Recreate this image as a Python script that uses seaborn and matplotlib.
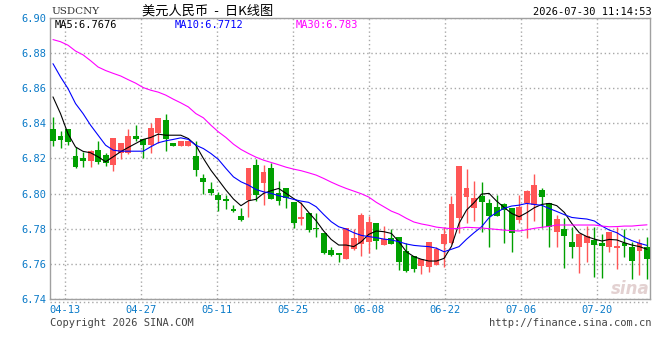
import numpy as np
import pandas as pd
import matplotlib
matplotlib.use("Agg")
import matplotlib.pyplot as plt
from matplotlib.lines import Line2D
import seaborn as sns

# ---------------- data ----------------
dates = pd.bdate_range("2026-04-09", periods=80).strftime("%m-%d").tolist()

opens = [6.8368, 6.8328, 6.8368, 6.8215, 6.8200, 6.8187, 6.8249, 6.8220, 6.8160, 6.8232,
         6.8232, 6.8328, 6.8310, 6.8275, 6.8347, 6.8419, 6.8290, 6.8268, 6.8268, 6.8215,
         6.8088, 6.8026, 6.7992, 6.7967, 6.7914, 6.7875, 6.7964, 6.8164, 6.8058, 6.8147,
         6.8001, 6.8031, 6.7952, 6.7858, 6.7890, 6.7806, 6.7777, 6.7681, 6.7664, 6.7630,
         6.7686, 6.7715, 6.7722, 6.7834, 6.7709, 6.7749, 6.7755, 6.7673, 6.7647, 6.7586,
         6.7580, 6.7592, 6.7711, 6.7719, 6.7862, 6.7982, 6.7916, 6.7987, 6.7948, 6.7925,
         6.7942, 6.7916, 6.7847, 6.7948, 6.7933, 6.8022, 6.7948, 6.7779, 6.7796, 6.7726,
         6.7694, 6.7720, 6.7734, 6.7720, 6.7694, 6.7688, 6.7720, 6.7698, 6.7671, 6.7698]
highs = [6.8433, 6.8357, 6.8370, 6.8266, 6.8238, 6.8245, 6.8300, 6.8230, 6.8317, 6.8290,
         6.8368, 6.8391, 6.8310, 6.8402, 6.8431, 6.8450, 6.8290, 6.8300, 6.8300, 6.8297,
         6.8111, 6.8065, 6.8009, 6.7992, 6.7935, 6.7918, 6.8145, 6.8194, 6.8164, 6.8171,
         6.8073, 6.8031, 6.7952, 6.7952, 6.7890, 6.7890, 6.7777, 6.7698, 6.7664, 6.7803,
         6.7797, 6.7891, 6.7872, 6.7834, 6.7815, 6.7796, 6.7755, 6.7717, 6.7647, 6.7628,
         6.7724, 6.7698, 6.7811, 6.7986, 6.8158, 6.8137, 6.8073, 6.8067, 6.7970, 6.7991,
         6.7948, 6.7916, 6.7993, 6.8020, 6.8112, 6.8030, 6.7948, 6.7878, 6.7862, 6.7811,
         6.7772, 6.7815, 6.7811, 6.7770, 6.7783, 6.7811, 6.7796, 6.7722, 6.7743, 6.7755]
lows = [6.8273, 6.8262, 6.8275, 6.8143, 6.8149, 6.8152, 6.8166, 6.8158, 6.8131, 6.8194,
        6.8226, 6.8300, 6.8205, 6.8232, 6.8285, 6.8243, 6.8268, 6.8268, 6.8268, 6.8100,
        6.7998, 6.7994, 6.7901, 6.7914, 6.7897, 6.7846, 6.7869, 6.7956, 6.7935, 6.7971,
        6.7937, 6.7920, 6.7805, 6.7822, 6.7784, 6.7755, 6.7655, 6.7642, 6.7608, 6.7630,
        6.7681, 6.7647, 6.7660, 6.7683, 6.7709, 6.7715, 6.7565, 6.7556, 6.7552, 6.7541,
        6.7556, 6.7592, 6.7584, 6.7715, 6.7773, 6.7830, 6.7845, 6.7783, 6.7698, 6.7870,
        6.7720, 6.7669, 6.7830, 6.7749, 6.7845, 6.7806, 6.7698, 6.7698, 6.7575, 6.7631,
        6.7546, 6.7612, 6.7527, 6.7518, 6.7666, 6.7571, 6.7641, 6.7514, 6.7535, 6.7512]
closes = [6.8300, 6.8302, 6.8295, 6.8152, 6.8187, 6.8241, 6.8181, 6.8171, 6.8317, 6.8289,
          6.8328, 6.8310, 6.8278, 6.8374, 6.8431, 6.8308, 6.8268, 6.8300, 6.8300, 6.8134,
          6.8067, 6.8005, 6.7965, 6.7958, 6.7901, 6.7852, 6.8145, 6.7992, 6.8124, 6.7971,
          6.7960, 6.7973, 6.7835, 6.7867, 6.7795, 6.7797, 6.7663, 6.7653, 6.7651, 6.7803,
          6.7745, 6.7880, 6.7840, 6.7728, 6.7739, 6.7715, 6.7612, 6.7561, 6.7571, 6.7628,
          6.7724, 6.7684, 6.7770, 6.7938, 6.8158, 6.8033, 6.7976, 6.7953, 6.7874, 6.7874,
          6.7906, 6.7773, 6.7925, 6.8012, 6.8050, 6.7978, 6.7811, 6.7853, 6.7760, 6.7694,
          6.7772, 6.7756, 6.7709, 6.7703, 6.7783, 6.7703, 6.7700, 6.7618, 6.7720, 6.7628]

ma5 = [6.8550, 6.8455, 6.8340, 6.8265, 6.8240, 6.8232, 6.8209, 6.8181, 6.8209, 6.8238,
       6.8262, 6.8285, 6.8308, 6.8319, 6.8338, 6.8332, 6.8332, 6.8332, 6.8313, 6.8275,
       6.8200, 6.8133, 6.8077, 6.8020, 6.7969, 6.7931, 6.7959, 6.7967, 6.8001, 6.8016,
       6.8029, 6.8001, 6.7972, 6.7944, 6.7893, 6.7845, 6.7787, 6.7739, 6.7707, 6.7707,
       6.7698, 6.7726, 6.7768, 6.7787, 6.7783, 6.7773, 6.7726, 6.7669, 6.7641, 6.7626,
       6.7616, 6.7616, 6.7631, 6.7700, 6.7830, 6.7906, 6.7948, 6.7997, 6.8001, 6.7957,
       6.7921, 6.7887, 6.7868, 6.7891, 6.7919, 6.7938, 6.7944, 6.7931, 6.7893, 6.7830,
       6.7777, 6.7755, 6.7741, 6.7730, 6.7739, 6.7736, 6.7720, 6.7707, 6.7698, 6.7683]
ma10 = [6.8739, 6.8664, 6.8597, 6.8512, 6.8455, 6.8389, 6.8332, 6.8275, 6.8247, 6.8241,
        6.8241, 6.8241, 6.8241, 6.8266, 6.8289, 6.8300, 6.8308, 6.8317, 6.8308, 6.8275,
        6.8256, 6.8228, 6.8194, 6.8143, 6.8095, 6.8067, 6.8048, 6.8023, 6.8010, 6.8001,
        6.7988, 6.7978, 6.7967, 6.7957, 6.7950, 6.7925, 6.7881, 6.7840, 6.7811, 6.7798,
        6.7777, 6.7762, 6.7755, 6.7749, 6.7741, 6.7736, 6.7726, 6.7713, 6.7705, 6.7701,
        6.7698, 6.7689, 6.7669, 6.7683, 6.7698, 6.7740, 6.7777, 6.7811, 6.7863, 6.7893,
        6.7916, 6.7929, 6.7934, 6.7944, 6.7938, 6.7933, 6.7915, 6.7898, 6.7880, 6.7864,
        6.7859, 6.7855, 6.7844, 6.7815, 6.7792, 6.7777, 6.7751, 6.7732, 6.7717, 6.7705]
ma30 = [6.8876, 6.8864, 6.8844, 6.8811, 6.8789, 6.8756, 6.8720, 6.8700, 6.8684, 6.8669,
        6.8648, 6.8628, 6.8603, 6.8588, 6.8577, 6.8560, 6.8537, 6.8516, 6.8493, 6.8455,
        6.8431, 6.8389, 6.8351, 6.8319, 6.8281, 6.8251, 6.8228, 6.8207, 6.8190, 6.8177,
        6.8164, 6.8150, 6.8139, 6.8130, 6.8118, 6.8105, 6.8086, 6.8065, 6.8046, 6.8029,
        6.8014, 6.7999, 6.7980, 6.7950, 6.7925, 6.7900, 6.7883, 6.7859, 6.7838, 6.7827,
        6.7819, 6.7809, 6.7804, 6.7800, 6.7802, 6.7808, 6.7806, 6.7804, 6.7800, 6.7796,
        6.7792, 6.7789, 6.7787, 6.7794, 6.7802, 6.7808, 6.7813, 6.7821, 6.7821, 6.7821,
        6.7821, 6.7821, 6.7821, 6.7815, 6.7811, 6.7812, 6.7815, 6.7815, 6.7819, 6.7822]

tick_labels = ["04-13", "04-27", "05-11", "05-25", "06-08", "06-22", "07-06", "07-20"]
y_ticks = [6.74, 6.76, 6.78, 6.80, 6.82, 6.84, 6.86, 6.88, 6.90]
ma_last = {"MA5": "6.7676", "MA10": "6.7712", "MA30": "6.783"}

# ---------------- style ----------------
RED = "#ff5656"
GREEN = "#00a000"
BLUE_TXT = "#0a7ac8"
C_MA = {"MA5": "#000000", "MA10": "#0000ff", "MA30": "#ff00ff"}
GRID = "#a8a8a8"

sns.set_theme(style="white")
plt.rcParams["font.family"] = ["DejaVu Sans Mono", "Noto Sans CJK SC"]

W, H = 660, 360
fig = plt.figure(figsize=(6.6, 3.6), dpi=100)
fig.patch.set_facecolor("white")

L, R, T, B = 50.5, 650.0, 17.8, 299.0
ax = fig.add_axes([L / W, 1 - B / H, (R - L) / W, (B - T) / H])
ax.set_facecolor("white")

df = pd.DataFrame({"idx": np.arange(len(dates)), "date": dates,
                   "open": opens, "high": highs, "low": lows, "close": closes,
                   "MA5": ma5, "MA10": ma10, "MA30": ma30})
up = df["close"] > df["open"]
colors = np.where(up, RED, GREEN)
body_bottom = np.minimum(df["open"], df["close"])
body_h = np.maximum((df["close"] - df["open"]).abs(), 0.0003)

# gridlines
for yv in y_ticks:
    ax.axhline(yv, color=GRID, lw=1, ls=(0, (1, 2)), zorder=0)
date_idx = np.array([dates.index(t) for t in tick_labels])
tick_pos = date_idx - 0.36 + 0.01 * (date_idx - date_idx[0])
for xp in tick_pos:
    ax.axvline(xp, color=GRID, lw=1, ls=(0, (1, 2)), zorder=0)

# candles
ax.vlines(df["idx"], df["low"], df["high"], colors=colors, lw=1.0, zorder=2)
ax.bar(df["idx"], body_h, bottom=body_bottom, width=0.78, color=colors,
       linewidth=0, zorder=3)

# moving averages with seaborn
ma_long = df.melt(id_vars="idx", value_vars=["MA5", "MA10", "MA30"],
                  var_name="ma", value_name="value")
sns.lineplot(data=ma_long, x="idx", y="value", hue="ma", palette=C_MA,
             ax=ax, legend=False, linewidth=0.8, zorder=4)

ax.set_xlim(-0.33, 79.4)
ax.set_ylim(6.74, 6.90)
ax.set_yticks(y_ticks)
ax.set_yticklabels([f"{v:.2f}" for v in y_ticks])
ax.set_xticks(tick_pos)
ax.set_xticklabels(tick_labels)
ax.tick_params(axis="both", length=0, labelsize=7.5, labelcolor=BLUE_TXT)
ax.tick_params(axis="y", pad=3)
ax.tick_params(axis="x", pad=4)
ax.set_xlabel("")
ax.set_ylabel("")
for s in ax.spines.values():
    s.set_visible(True)
    s.set_color("#a0a0a0")
    s.set_linewidth(1.0)

# dotted line under the frame
fig.add_artist(Line2D([L / W, R / W], [1 - 301.5 / H, 1 - 301.5 / H],
                      color=GRID, lw=1, ls=(0, (1, 2))))

def ftext(x, y, s, **kw):
    fig.text(x / W, 1 - y / H, s, va="center", **kw)

ftext(51, 12, "USDCNY", fontsize=7.5, family="DejaVu Serif", color="#333333", ha="left")
ftext(208, 11, "美元人民币  -  日K线图", fontsize=9.5, family=["Noto Sans CJK SC", "DejaVu Sans"],
      color="#000000", ha="center")
ftext(652, 12, "2026-07-30 11:14:53", fontsize=7.5, color="#000000", ha="right")

ftext(55, 24.5, "MA5:" + ma_last["MA5"], fontsize=7.5, color=C_MA["MA5"], ha="left")
ftext(175, 24.5, "MA10:" + ma_last["MA10"], fontsize=7.5, color=C_MA["MA10"], ha="left")
ftext(296, 24.5, "MA30:" + ma_last["MA30"], fontsize=7.5, color=C_MA["MA30"], ha="left")

ftext(50, 323, "Copyright 2026 SINA.COM", fontsize=7.5, color="#444444", ha="left")
ftext(652, 323, "http://finance.sina.com.cn", fontsize=7.5, color="#444444", ha="right")

# watermark
ftext(630, 289, "sina", fontsize=12, color="#dcc6c6", ha="center", style="italic",
      weight="bold", family="DejaVu Sans", alpha=0.8)

fig.savefig("out.png", dpi=100, facecolor="white")
